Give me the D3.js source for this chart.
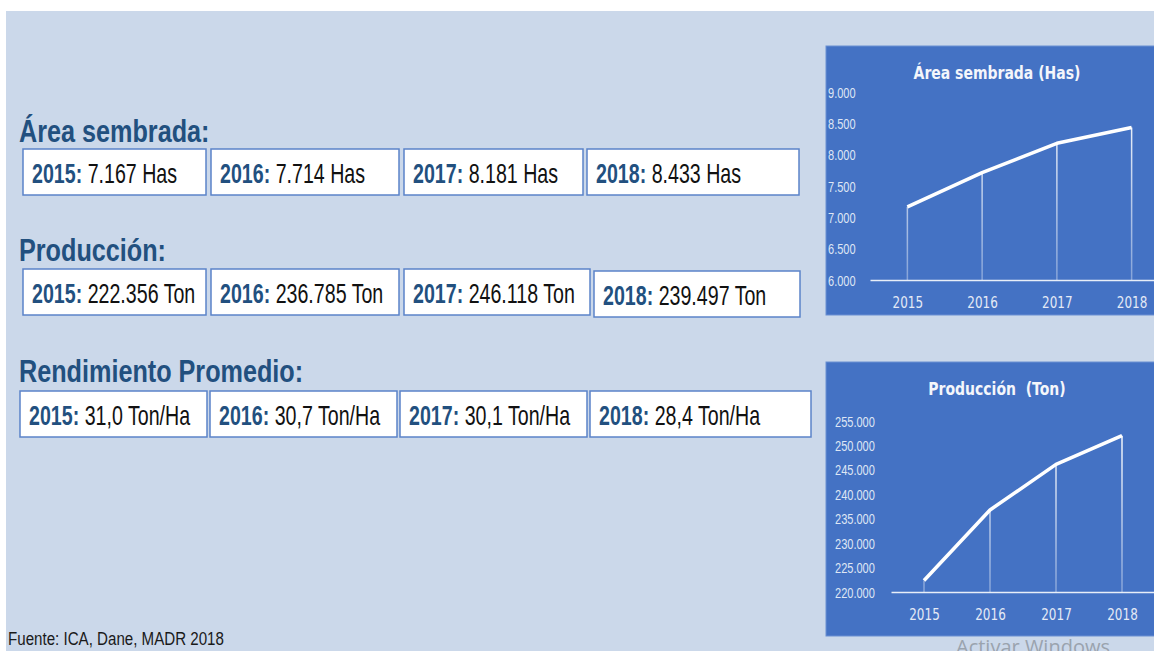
<!DOCTYPE html>
<html>
<head>
<meta charset="utf-8">
<script src="https://cdn.jsdelivr.net/npm/d3@7"></script>
<style>
  html, body { margin: 0; padding: 0; background: #ffffff; }
  svg { display: block; }
</style>
</head>
<body>
<div id="chart"></div>
<script>
const years = ['2015', '2016', '2017', '2018'];
const areaHas = [7167, 7714, 8181, 8433];
const produccionTon = [222356, 236785, 246118, 239497];
const rendimientoTonHa = [31.0, 30.7, 30.1, 28.4];
// values as plotted in the production chart (2018 point sits near 252.000)
const produccionChart = [222356, 236785, 246118, 252000];
const areaTicks = [6000, 6500, 7000, 7500, 8000, 8500, 9000];
const prodTicks = [220000, 225000, 230000, 235000, 240000, 245000, 250000, 255000];

const w = 1154;
const h = 651;

const es = d3.formatLocale({decimal: ',', thousands: '.', grouping: [3], currency: ['$', '']});
const fmtInt = es.format(',d');
const fmtDec = es.format(',.1f');

const svg = d3.select('#chart')
              .append('svg')
              .attr('width', w)
              .attr('height', h);

svg.append('rect')
   .attr('x', 6)
   .attr('y', 11)
   .attr('width', w - 6)
   .attr('height', h - 11)
   .attr('fill', '#cbd8ea');

// ---- left side: headings + value boxes
const sections = [
    {title: 'Área sembrada:', values: areaHas, unit: 'Has', fmt: fmtInt},
    {title: 'Producción:', values: produccionTon, unit: 'Ton', fmt: fmtInt},
    {title: 'Rendimiento Promedio:', values: rendimientoTonHa, unit: 'Ton/Ha', fmt: fmtDec}
];

const headingY = [142, 261, 382];
const boxTop = [149, 269, 391];
const boxH = 46;
const boxEdges = [
    [[23, 206], [211, 399], [404, 583], [587, 799]],
    [[23, 206], [211, 399], [404, 590], [594, 800]],
    [[20, 207], [210, 397], [400, 587], [590, 811]]
];

sections.forEach((s, i) => {
    svg.append('text')
       .attr('transform', `translate(19, ${headingY[i]}) scale(0.84, 1.05)`)
       .attr('font-family', 'Liberation Sans, Arial, sans-serif')
       .attr('font-weight', 'bold')
       .attr('font-size', 30)
       .attr('fill', '#22507f')
       .text(s.title);

    const boxes = svg.append('g')
                     .selectAll('g')
                     .data(s.values)
                     .enter()
                     .append('g');

    boxes.append('rect')
         .attr('x', (d, j) => boxEdges[i][j][0])
         .attr('y', (d, j) => boxTop[i] + (i === 1 && j === 3 ? 2 : 0))
         .attr('width', (d, j) => boxEdges[i][j][1] - boxEdges[i][j][0])
         .attr('height', boxH)
         .attr('fill', '#ffffff')
         .attr('stroke', '#5b83c9')
         .attr('stroke-width', 1.5);

    const t = boxes.append('text')
                   .attr('transform', (d, j) => `translate(${boxEdges[i][j][0] + 9}, ${boxTop[i] + 34 + (i === 1 && j === 3 ? 2 : 0)}) scale(0.785, 1.08)`)
                   .attr('font-family', 'Liberation Sans, Arial, sans-serif')
                   .attr('font-size', 25);

    t.append('tspan')
     .attr('font-weight', 'bold')
     .attr('fill', '#22507f')
     .text((d, j) => years[j] + ':');

    t.append('tspan')
     .attr('fill', '#111111')
     .text(d => ' ' + s.fmt(d) + ' ' + s.unit);
});

svg.append('text')
   .attr('transform', 'translate(8, 645) scale(0.84, 1.05)')
   .attr('font-family', 'Liberation Sans, Arial, sans-serif')
   .attr('font-size', 18)
   .attr('fill', '#1a1a1a')
   .text('Fuente: ICA, Dane, MADR 2018');

// ---- right side: two small line charts
const charts = [
    {title: 'Área sembrada (Has)', values: areaHas, ticks: areaTicks,
     top: 46, height: 269, titleY: 79, labelX: 828,
     xRange: [870, 1169], yRange: [280, 92], id: 'gArea'},
    {title: 'Producción  (Ton)', values: produccionChart, ticks: prodTicks,
     top: 362, height: 274, titleY: 395, labelX: 835,
     xRange: [891, 1155], yRange: [592, 421], id: 'gProd'}
];

const defs = svg.append('defs');

charts.forEach(c => {
    svg.append('rect')
       .attr('x', 826)
       .attr('y', c.top)
       .attr('width', 340)
       .attr('height', c.height)
       .attr('fill', '#4472c4')
       .attr('stroke', '#6a8fd2')
       .attr('stroke-width', 1);

    svg.append('text')
       .attr('transform', `translate(997, ${c.titleY}) scale(1, 1.25)`)
       .attr('text-anchor', 'middle')
       .attr('font-family', 'DejaVu Sans, sans-serif')
       .attr('font-weight', 'bold')
       .attr('font-size', 14)
       .attr('fill', '#f4f6fb')
       .style('white-space', 'pre')
       .text(c.title);

    const xScale = d3.scalePoint()
                     .domain(years)
                     .range(c.xRange)
                     .padding(0.5);

    const yScale = d3.scaleLinear()
                     .domain(d3.extent(c.ticks))
                     .range(c.yRange);

    const yAxis = svg.append('g')
                     .attr('transform', `translate(${c.labelX}, 0)`)
                     .call(d3.axisRight(yScale)
                             .tickValues(c.ticks)
                             .tickSize(0)
                             .tickPadding(0)
                             .tickFormat(fmtInt));
    yAxis.select('.domain').remove();
    yAxis.selectAll('text')
         .attr('dy', '0.35em')
         .attr('transform', 'scale(0.92, 1.2)')
         .attr('font-family', 'Liberation Sans, Arial, sans-serif')
         .attr('font-size', 12)
         .attr('fill', '#dfe6f4');

    const xAxis = svg.append('g')
                     .attr('transform', `translate(0, ${c.yRange[0]})`)
                     .call(d3.axisBottom(xScale)
                             .tickSize(0)
                             .tickSizeOuter(0));
    xAxis.select('.domain')
         .attr('stroke', '#e8eef8')
         .attr('stroke-width', 1.5);
    xAxis.selectAll('text')
         .attr('y', 0)
         .attr('dy', 0)
         .attr('transform', 'translate(0, 28) scale(1, 1.25)')
         .attr('font-family', 'DejaVu Sans, sans-serif')
         .attr('font-size', 12)
         .attr('fill', '#e4eaf6');

    const grad = defs.append('linearGradient')
                     .attr('id', c.id)
                     .attr('gradientUnits', 'userSpaceOnUse')
                     .attr('x1', 0).attr('x2', 0)
                     .attr('y1', c.yRange[1])
                     .attr('y2', c.yRange[0]);
    grad.append('stop').attr('offset', '0%').attr('stop-color', '#ffffff').attr('stop-opacity', 1);
    grad.append('stop').attr('offset', '100%').attr('stop-color', '#ffffff').attr('stop-opacity', 0.35);

    svg.append('g')
       .selectAll('line')
       .data(c.values)
       .enter()
       .append('line')
       .attr('x1', (d, i) => xScale(years[i]))
       .attr('x2', (d, i) => xScale(years[i]))
       .attr('y1', d => yScale(d))
       .attr('y2', c.yRange[0])
       .attr('stroke', `url(#${c.id})`)
       .attr('stroke-width', 1.5);

    const line = d3.line()
                   .x((d, i) => xScale(years[i]))
                   .y(d => yScale(d));

    svg.append('path')
       .datum(c.values)
       .attr('d', line)
       .attr('fill', 'none')
       .attr('stroke', '#ffffff')
       .attr('stroke-width', 3.5)
       .attr('stroke-linejoin', 'round');
});

svg.append('text')
   .attr('x', 956)
   .attr('y', 654)
   .attr('font-family', 'Open Sans, sans-serif')
   .attr('font-size', 20)
   .attr('fill', '#9aa3ae')
   .text('Activar Windows');
</script>
</body>
</html>
